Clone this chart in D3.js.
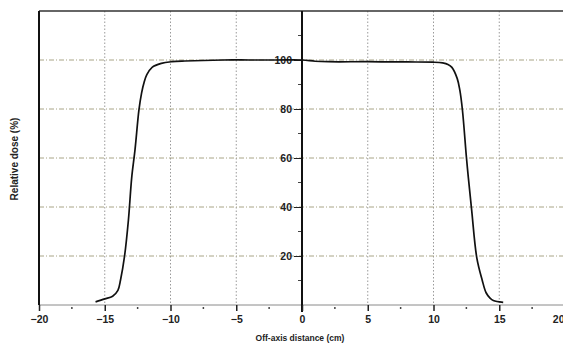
<!DOCTYPE html>
<html>
<head>
<meta charset="utf-8">
<script src="https://cdn.jsdelivr.net/npm/d3@7"></script>
<style>
  body { margin: 0; background: #fff; }
  svg { display: block; font-family: "Liberation Sans", Arial, sans-serif; }
  .tick-label { font-size: 10.5px; font-weight: bold; fill: #222; }
</style>
</head>
<body>
<div id="chart"></div>
<script>
// measured profile: off-axis distance (cm) vs relative dose (%)
const offAxis = [-15.7, -15.0, -14.4, -14.0, -13.8, -13.5, -13.2, -12.95, -12.7, -12.4, -12.2, -12.0, -11.8, -11.4, -10.7, -9.9, -8.9, -6, -4, -2, 0, 1, 2, 5, 8, 10, 10.7, 11.1, 11.4, 11.8, 12.0, 12.2, 12.5, 12.65, 12.9, 13.3, 13.7, 14.0, 14.3, 14.55, 15.3];
const doseVals = [1.3, 2.5, 3.6, 6.0, 10.2, 19.7, 34.7, 52, 63.3, 79.6, 86.5, 91.0, 94.0, 97.0, 98.6, 99.3, 99.6, 100, 100, 100, 100, 99.5, 99.3, 99.3, 99.2, 99.1, 98.8, 98.2, 97.0, 92.5, 87.8, 79.6, 60.5, 52, 38.8, 19, 10.2, 5.0, 2.8, 1.8, 1.1];
const xTicks = [-20, -15, -10, -5, 0, 5, 10, 15, 20];
const yTicks = [20, 40, 60, 80, 100];

const width = 563, height = 348;
const margin = { left: 39, top: 11, bottom: 43 };

const svg = d3.select('#chart').append('svg')
  .attr('width', width)
  .attr('height', height);

const x = d3.scaleLinear().domain([-20, 20]).range([margin.left, 565]);
const y = d3.scaleLinear().domain([0, 120]).range([height - margin.bottom, margin.top]);

// grid
svg.selectAll('.vgrid')
  .data(xTicks.filter(d => d !== -20 && d !== 0 && d !== 20))
  .enter().append('line')
  .attr('x1', d => x(d)).attr('x2', d => x(d))
  .attr('y1', y(120)).attr('y2', y(0))
  .attr('stroke', '#9a9a9a')
  .attr('stroke-width', 1)
  .attr('stroke-dasharray', '1.5,2');

svg.selectAll('.hgrid')
  .data(yTicks)
  .enter().append('line')
  .attr('x1', x(-20)).attr('x2', width)
  .attr('y1', d => y(d)).attr('y2', d => y(d))
  .attr('stroke', '#a8a486')
  .attr('stroke-width', 1)
  .attr('stroke-dasharray', '5,2,1,2');

// x axis line (bottom)
svg.append('line')
  .attr('x1', x(-20)).attr('x2', width)
  .attr('y1', y(0)).attr('y2', y(0))
  .attr('stroke', '#8a8a8a').attr('stroke-width', 1);

// borders
svg.append('line')
  .attr('x1', x(-20)).attr('x2', width)
  .attr('y1', y(120)).attr('y2', y(120))
  .attr('stroke', '#333').attr('stroke-width', 1.5);
svg.append('line')
  .attr('x1', x(-20)).attr('x2', x(-20))
  .attr('y1', y(120)).attr('y2', y(0))
  .attr('stroke', '#111').attr('stroke-width', 2);

// central y axis
const yAxis = d3.axisLeft(y)
  .tickValues(yTicks)
  .tickSize(8)
  .tickPadding(2);
const yG = svg.append('g')
  .attr('transform', `translate(${x(0)},0)`)
  .call(yAxis);
yG.select('.domain').remove();
yG.selectAll('text').attr('class', 'tick-label');
yG.selectAll('line').attr('stroke', '#222');
yG.selectAll('.minor')
  .data([10, 30, 50, 70, 90, 110])
  .enter().append('line')
  .attr('x1', -4).attr('x2', 0)
  .attr('y1', d => y(d)).attr('y2', d => y(d))
  .attr('stroke', '#444');
svg.append('line')
  .attr('x1', x(0)).attr('x2', x(0))
  .attr('y1', y(120)).attr('y2', y(0) + 7)
  .attr('stroke', '#111').attr('stroke-width', 2);

// x axis ticks and labels
const xAxis = d3.axisBottom(x)
  .tickValues(xTicks)
  .tickSize(6)
  .tickPadding(5)
  .tickFormat(d3.format('d'));
const xG = svg.append('g')
  .attr('transform', `translate(0,${y(0)})`)
  .call(xAxis);
xG.select('.domain').remove();
xG.selectAll('text').attr('class', 'tick-label')
  .attr('text-anchor', d => d === 20 ? 'end' : 'middle')
  .attr('dx', d => d === 20 ? '-1' : 0);
xG.selectAll('line').attr('stroke', '#222').attr('stroke-width', 1.5);
xG.selectAll('.minor')
  .data([-17.5, -12.5, -7.5, -2.5, 2.5, 7.5, 12.5, 17.5])
  .enter().append('line')
  .attr('x1', d => x(d)).attr('x2', d => x(d))
  .attr('y1', 2).attr('y2', 4)
  .attr('stroke', '#444').attr('stroke-width', 1.5);

// axis titles
svg.append('text')
  .attr('x', 300)
  .attr('y', 341)
  .attr('text-anchor', 'middle')
  .style('font-size', '8.5px')
  .style('font-weight', 'bold')
  .style('fill', '#222')
  .text('Off-axis distance (cm)');

svg.append('text')
  .attr('transform', 'translate(18,159) rotate(-90)')
  .attr('text-anchor', 'middle')
  .style('font-size', '10px')
  .style('font-weight', 'bold')
  .style('fill', '#222')
  .text('Relative dose (%)');

// profile curve
const points = offAxis.map((d, i) => [d, doseVals[i]]);
const line = d3.line()
  .x(d => x(d[0]))
  .y(d => y(d[1]))
  .curve(d3.curveCatmullRom.alpha(0.5));

svg.append('path')
  .datum(points)
  .attr('d', line)
  .attr('fill', 'none')
  .attr('stroke', '#111')
  .attr('stroke-width', 1.7);
</script>
</body>
</html>
